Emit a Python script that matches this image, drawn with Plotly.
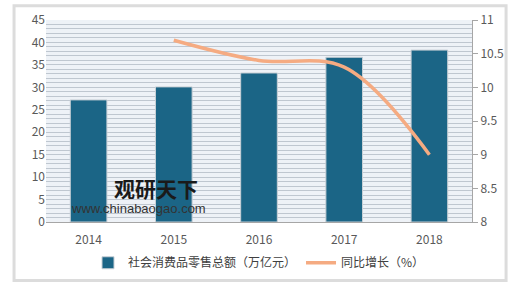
import plotly.graph_objects as go

years = ["2014", "2015", "2016", "2017", "2018"]
retail_total = [27.2, 30.1, 33.2, 36.7, 38.3]
growth_years = ["2015", "2016", "2017", "2018"]
growth_rate = [10.7, 10.4, 10.3, 9.0]
left_ticks = [0, 5, 10, 15, 20, 25, 30, 35, 40, 45]
right_ticks = [8, 8.5, 9, 9.5, 10, 10.5, 11]

bar_name = "社会消费品零售总额（万亿元）"
line_name = "同比增长（%）"

font_family = "Noto Sans CJK SC, Noto Sans, sans-serif"

fig = go.Figure()
fig.add_trace(go.Bar(
    x=years, y=retail_total, name=bar_name,
    marker=dict(color="#1b6586", line=dict(color="#c9d0d6", width=1)),
    width=0.43, yaxis="y",
))
fig.add_trace(go.Scatter(
    x=growth_years, y=growth_rate, name=line_name, mode="lines",
    line=dict(color="#f5ab82", width=3.5, shape="spline", smoothing=1.0),
    yaxis="y2",
))

fig.update_layout(
    width=520, height=291,
    margin=dict(l=46, r=48, t=20, b=69, autoexpand=False),
    paper_bgcolor="white",
    plot_bgcolor="#eef2f7",
    font=dict(family=font_family, size=12, color="#595959"),
    showlegend=True,
    legend=dict(
        orientation="h", x=0.5, xanchor="center", y=-0.13, yanchor="top",
        bgcolor="white", font=dict(size=12, color="#404040"),
        itemwidth=30, traceorder="normal",
    ),
    xaxis=dict(
        type="category", categoryorder="array", categoryarray=years,
        showline=True, linecolor="#a6a6a6", linewidth=1,
        ticks="outside", ticklen=7, tickcolor="rgba(0,0,0,0)",
        showgrid=False, tickfont=dict(size=12, color="#595959"),
    ),
    yaxis=dict(
        range=[0, 45], tickvals=left_ticks, showline=False,
        showgrid=False, zeroline=False, ticks="",
        minor=dict(dtick=1, showgrid=True, gridcolor="#bfc7d0", gridwidth=1),
        tickfont=dict(size=12, color="#595959"),
    ),
    yaxis2=dict(
        range=[8, 11], tickvals=right_ticks, overlaying="y", side="right",
        showline=True, linecolor="#a6a6a6", linewidth=1,
        ticks="outside", ticklen=5, tickcolor="#a6a6a6",
        showgrid=False, zeroline=False,
        tickfont=dict(size=12, color="#595959"),
    ),
    shapes=[
        dict(type="rect", xref="paper", yref="paper",
             x0=-0.075, x1=1.08, y0=-0.29, y1=1.07,
             line=dict(color="#dcdcdc", width=3), layer="below"),
    ],
    annotations=[
        dict(text="<b>观研天下</b>", xref="paper", yref="paper",
             x=0.155, y=0.17, xanchor="left", yanchor="middle", showarrow=False,
             font=dict(size=21, color="#1a1a1a", family=font_family)),
        dict(text="www.chinabaogao.com", xref="paper", yref="paper",
             x=0.055, y=0.065, xanchor="left", yanchor="middle", showarrow=False,
             font=dict(size=13, color="#333333", family="Liberation Sans, Arial, sans-serif")),
    ],
)

fig.write_html("out.html")
